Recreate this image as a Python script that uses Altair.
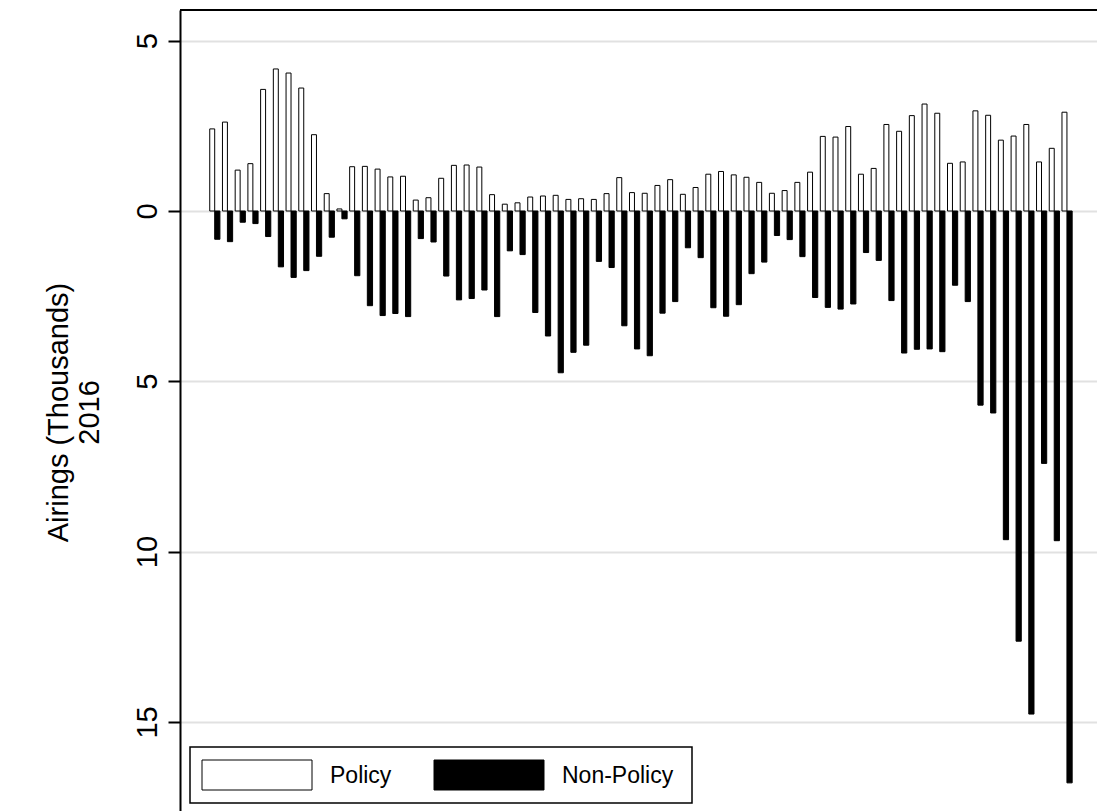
import altair as alt
import pandas as pd

# Weekly airings in 2016, thousands
weeks = list(range(1, 69))

policy = [
    2.41, 2.61, 1.20, 1.39, 3.57, 4.17, 4.05, 3.61, 2.24, 0.51, 0.06, 1.30,
    1.31, 1.23, 1.00, 1.02, 0.32, 0.39, 0.96, 1.34, 1.35, 1.29,
    0.48, 0.20, 0.24, 0.41, 0.44, 0.46, 0.34, 0.36, 0.34, 0.51, 0.98, 0.54,
    0.52, 0.75, 0.92, 0.49, 0.69, 1.08, 1.16, 1.06, 0.99, 0.84, 0.52, 0.60,
    0.84, 1.14, 2.19, 2.17, 2.48, 1.08, 1.25, 2.54, 2.34, 2.80, 3.14, 2.87,
    1.40, 1.44, 2.94, 2.81, 2.08, 2.20, 2.54, 1.44, 1.84, 2.90,
]

# plotted below the zero line
non_policy = [
    -0.83, -0.90, -0.33, -0.37, -0.75, -1.64, -1.95, -1.75, -1.33, -0.77, -0.23, -1.90,
    -2.78, -3.07, -3.01, -3.10, -0.81, -0.91, -1.91, -2.61, -2.57, -2.32,
    -3.10, -1.17, -1.28, -2.98, -3.67, -4.75, -4.15, -3.94, -1.48, -1.66, -3.37, -4.05,
    -4.25, -3.00, -2.66, -1.08, -1.37, -2.84, -3.09, -2.75, -1.84, -1.50, -0.72, -0.84,
    -1.34, -2.54, -2.83, -2.88, -2.73, -1.22, -1.45, -2.63, -4.17, -4.06, -4.05, -4.13,
    -2.18, -2.66, -5.70, -5.93, -9.65, -12.63, -14.77, -7.41, -9.68, -16.79,
]

series_names = ["Policy", "Non-Policy"]
series_fill = ["white", "black"]
y_ticks = [5, 0, -5, -10, -15]
y_title = ["Airings (Thousands)", "2016"]

df = pd.DataFrame({
    "week": weeks + weeks,
    "series": [series_names[0]] * len(weeks) + [series_names[1]] * len(weeks),
    "airings": policy + non_policy,
})

FONT = "Liberation Sans"
W, H = 917, 801

x_scale = alt.Scale(domain=[-1.728, 70.363], nice=False, zero=False)
y_scale = alt.Scale(domain=[-17.616, 5.901], nice=False, zero=False)
fill_scale = alt.Scale(domain=series_names, range=series_fill)

bars = (
    alt.Chart(df)
    .transform_calculate(
        x0="datum.series == 'Policy' ? datum.week - 0.39 : datum.week",
        x1="datum.series == 'Policy' ? datum.week : datum.week + 0.41",
    )
    .mark_rect(stroke="black", strokeWidth=1)
    .encode(
        x=alt.X("x0:Q", scale=x_scale, axis=None),
        x2="x1:Q",
        y=alt.Y(
            "airings:Q",
            scale=y_scale,
            axis=alt.Axis(
                values=y_ticks,
                labelExpr="abs(datum.value)",
                labelAngle=270,
                labelAlign="center",
                labelBaseline="alphabetic",
                labelFont=FONT,
                labelFontSize=29,
                labelColor="black",
                labelPadding=12,
                tickSize=12,
                tickWidth=2,
                tickColor="black",
                domainColor="black",
                domainWidth=2,
                grid=True,
                gridColor="#e1e1e1",
                gridWidth=2,
                title=y_title,
                titleFont=FONT,
                titleFontSize=29,
                titleFontWeight="normal",
                titleColor="black",
                titleAngle=270,
                titleAlign="center",
                titleBaseline="alphabetic",
                titleLineHeight=31,
                titleX=-113,
                titleY=402,
            ),
        ),
        y2=alt.datum(0),
        fill=alt.Fill("series:N", scale=fill_scale, legend=None),
    )
)

# top edge of the plot frame
frame_top = (
    alt.Chart(pd.DataFrame({"edge": ["top"]}))
    .mark_rule(color="black", strokeWidth=2)
    .encode(x=alt.value(0), x2=alt.value(W), y=alt.value(0))
)

# legend: outlined box with one swatch and label per series
legend_box = (
    alt.Chart(pd.DataFrame({"part": ["box"]}))
    .mark_rect(fill="white", stroke="black", strokeWidth=1.5)
    .encode(x=alt.value(10), x2=alt.value(512), y=alt.value(737), y2=alt.value(793))
)

legend_layers = [legend_box]
swatch_left = [22, 254]
swatch_w = 110
label_gap = 18
for name, left in zip(series_names, swatch_left):
    entry = alt.Chart(pd.DataFrame({"series": [name]}))
    legend_layers.append(
        entry.mark_rect(stroke="black", strokeWidth=1).encode(
            x=alt.value(left),
            x2=alt.value(left + swatch_w),
            y=alt.value(750),
            y2=alt.value(780),
            fill=alt.Fill("series:N", scale=fill_scale, legend=None),
        )
    )
    legend_layers.append(
        entry.mark_text(
            align="left", baseline="middle", font=FONT, fontSize=23, color="black"
        ).encode(
            x=alt.value(left + swatch_w + label_gap),
            y=alt.value(766),
            text="series:N",
        )
    )

chart = (
    alt.layer(bars, frame_top, *legend_layers)
    .properties(
        width=W,
        height=H,
        padding={"left": 180, "top": 10, "right": 0, "bottom": 0},
        autosize=alt.AutoSizeParams(type="none"),
        background="white",
    )
    .configure_view(strokeWidth=0)
)

chart.save("out.html", embed_options={"renderer": "svg", "actions": False})
